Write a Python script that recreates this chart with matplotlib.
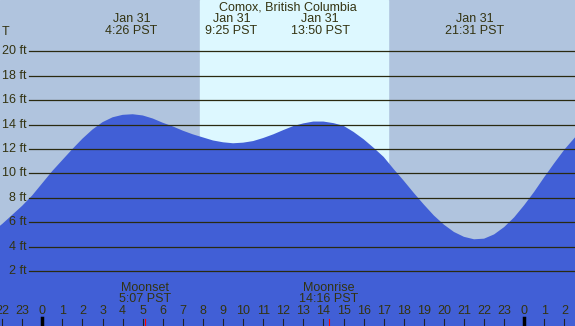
import matplotlib
matplotlib.use("Agg")
from matplotlib import pyplot as plt
from matplotlib.transforms import blended_transform_factory
import numpy as np

plt.rcParams['font.family'] = ['Liberation Sans', 'DejaVu Sans']

# tide height (ft), hours since midnight Jan 31
hours = [-2.5, -2.0, -1.5, -1.0, -0.5, 0.0, 0.5, 1.0, 1.5, 2.0, 2.5, 3.0, 3.5, 4.0,
         4.5, 5.0, 5.5, 6.0, 6.5, 7.0, 7.5, 8.0, 8.5, 9.0, 9.5, 10.0, 10.5, 11.0,
         11.5, 12.0, 12.5, 13.0, 13.5, 14.0, 14.5, 15.0, 15.5, 16.0, 16.5, 17.0,
         17.5, 18.0, 18.5, 19.0, 19.5, 20.0, 20.5, 21.0, 21.5, 22.0, 22.5, 23.0,
         23.5, 24.0, 24.5, 25.0, 25.5, 26.0, 26.5, 27.0]
height = [5.2, 5.85, 6.6, 7.35, 8.2, 9.2, 10.2, 11.1, 12.0, 12.85, 13.6, 14.2, 14.6, 14.8,
          14.85, 14.75, 14.5, 14.15, 13.85, 13.5, 13.2, 12.95, 12.7, 12.55, 12.47, 12.52, 12.65, 12.9,
          13.2, 13.55, 13.88, 14.1, 14.25, 14.25, 14.12, 13.9, 13.4, 12.8, 12.1, 11.35,
          10.35, 9.4, 8.4, 7.45, 6.55, 5.8, 5.2, 4.8, 4.6, 4.65, 5.0, 5.6,
          6.4, 7.4, 8.5, 9.7, 10.85, 11.95, 12.9, 13.8]

sunrise = 7.85
sunset = 17.22

tide_times = [4.433, 9.417, 13.833, 21.517]
tide_labels = ["4:26 PST", "9:25 PST", "13:50 PST", "21:31 PST"]

moon_times = [5.117, 14.267]
moon_labels = ["Moonset\n5:07 PST", "Moonrise\n14:16 PST"]

grid_ft = [2, 4, 6, 8, 10, 12, 14, 16, 18, 20]
tick_hours = list(range(-2, 27))
tick_labels = [str(h % 24) for h in tick_hours]

W, H = 575, 326
fig = plt.figure(figsize=(W / 100, H / 100), dpi=100)
ax = fig.add_axes([0, 0, 1, 1])
ax.set_axis_off()

x0 = -2.107
x1 = x0 + W / 20.08
y0 = -(H - 295.4) / 12.2
y1 = 295.4 / 12.2
ax.set_xlim(x0, x1)
ax.set_ylim(y0, y1)

txtc = "#333311"
ax.axvspan(x0, x1, color="#b0c4de", zorder=0)
ax.axvspan(sunrise, sunset, color="#ddf8ff", zorder=1)
ax.fill_between(hours, y0, height, color="#415fd6", zorder=2, linewidth=0)

trx = blended_transform_factory(ax.transData, fig.transFigure)
trl = blended_transform_factory(fig.transFigure, ax.transData)

def fy(py):
    return 1 - py / H

for g in grid_ft:
    ax.plot([x0 + 29 / 20.08, x1], [g, g], color="#2a2a10", lw=0.9, zorder=3)
    ax.text(26.5 / W, g, f"{g} ft", transform=trl, ha="right", va="center",
            fontsize=9, color=txtc, zorder=4)

ax.text(2 / W, fy(32), "T", transform=fig.transFigure, ha="left", va="center",
        fontsize=9, color=txtc)

ax.text(0.5, fy(7.5), "Comox, British Columbia", transform=fig.transFigure,
        ha="center", va="center", fontsize=9, color=txtc)

for t, lab in zip(tide_times, tide_labels):
    ax.text(t, fy(19.5), "Jan 31", transform=trx, ha="center", va="center",
            fontsize=9, color=txtc)
    ax.text(t, fy(31.5), lab, transform=trx, ha="center", va="center",
            fontsize=9, color=txtc)

for t, lab in zip(moon_times, moon_labels):
    ax.text(t, fy(293.5), lab, transform=trx, ha="center", va="center",
            fontsize=9, color=txtc, linespacing=0.95)
    ax.plot([t, t], [fy(319), fy(326)], transform=trx, color="red", lw=0.8, zorder=5)

for h, lab in zip(tick_hours, tick_labels):
    ax.text(h, fy(311.5), lab, transform=trx, ha="center", va="center",
            fontsize=9, color=txtc, zorder=5)
    if h % 24 == 0:
        ax.plot([h, h], [fy(318), fy(326)], transform=trx, color="black", lw=2.5, zorder=5)
    else:
        ax.plot([h, h], [fy(319), fy(326)], transform=trx, color="#222222", lw=0.8, zorder=5)

fig.savefig("out.png", dpi=100)
